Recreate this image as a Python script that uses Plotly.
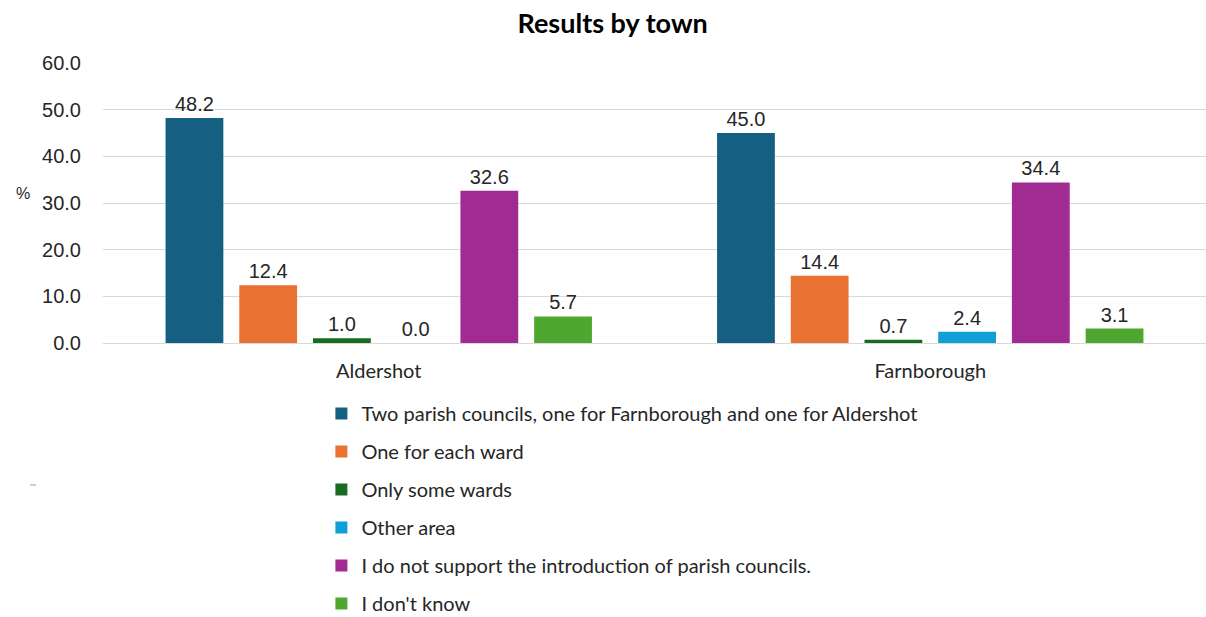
import plotly.graph_objects as go

towns = ["Aldershot", "Farnborough"]
series_names = [
    "Two parish councils, one for Farnborough and one for Aldershot",
    "One for each ward",
    "Only some wards",
    "Other area",
    "I do not support the introduction of parish councils.",
    "I don't know",
]
values = [
    [48.2, 45.0],
    [12.4, 14.4],
    [1.0, 0.7],
    [0.0, 2.4],
    [32.6, 34.4],
    [5.7, 3.1],
]
colors = ["#156082", "#E97132", "#196B24", "#0F9ED5", "#A02B93", "#4EA72E"]
y_ticks = [0, 10, 20, 30, 40, 50, 60]

fig = go.Figure()
for i, (name, vals, col) in enumerate(zip(series_names, values, colors)):
    fig.add_trace(go.Bar(
        x=towns, y=vals, name=name, marker=dict(color=col, line=dict(width=0)),
        text=[f"{v:.1f}" for v in vals], textposition="outside",
        textfont=dict(family="Liberation Sans, Arial", size=20, color="#262626"),
        cliponaxis=False, legendgroup=f"g{i}",
    ))

fig.update_layout(
    width=1206, height=617,
    margin=dict(l=103, r=0, t=63, b=274),
    paper_bgcolor="white", plot_bgcolor="white",
    barmode="group", bargap=0.198, bargroupgap=0.216,
    title=dict(text="<b>Results by town</b>", x=0.508, xanchor="center", y=0.962, yanchor="middle",
               font=dict(family="Lato, Noto Sans", size=27, color="black")),
    showlegend=True,
    legend=dict(orientation="v", x=0.198, xanchor="left",
                yref="container", y=1 - 394 / 617, yanchor="top",
                font=dict(family="Lato, Noto Sans", size=20, color="#262626"),
                tracegroupgap=9, itemwidth=30, traceorder="grouped"),
    font=dict(family="Liberation Sans, Arial", color="#262626"),
)
fig.update_yaxes(range=[0, 60], tickvals=y_ticks, ticktext=[f"{v:.1f}" for v in y_ticks],
                 showgrid=True, gridcolor="#D9D9D9", gridwidth=1.3, zeroline=True,
                 zerolinecolor="#D9D9D9", zerolinewidth=1.3,
                 tickfont=dict(size=20, color="#262626"), ticklabelstandoff=21)
fig.update_xaxes(showline=False, tickfont=dict(family="Lato, Noto Sans", size=20, color="#262626"),
                 ticklabelstandoff=14)
fig.add_annotation(text="%", xref="paper", yref="paper", x=-0.081, y=0.535, showarrow=False,
                   font=dict(family="Liberation Sans, Arial", size=16, color="#262626"))
fig.add_shape(type="line", xref="paper", yref="paper",
              x0=(30 - 103) / 1103, x1=(36 - 103) / 1103,
              y0=-(485 - 343) / 280, y1=-(485 - 343) / 280,
              line=dict(color="#BFBFBF", width=1.5))

fig.write_html("out.html", post_script="document.body.style.margin='0';",
               config={"displayModeBar": False})
